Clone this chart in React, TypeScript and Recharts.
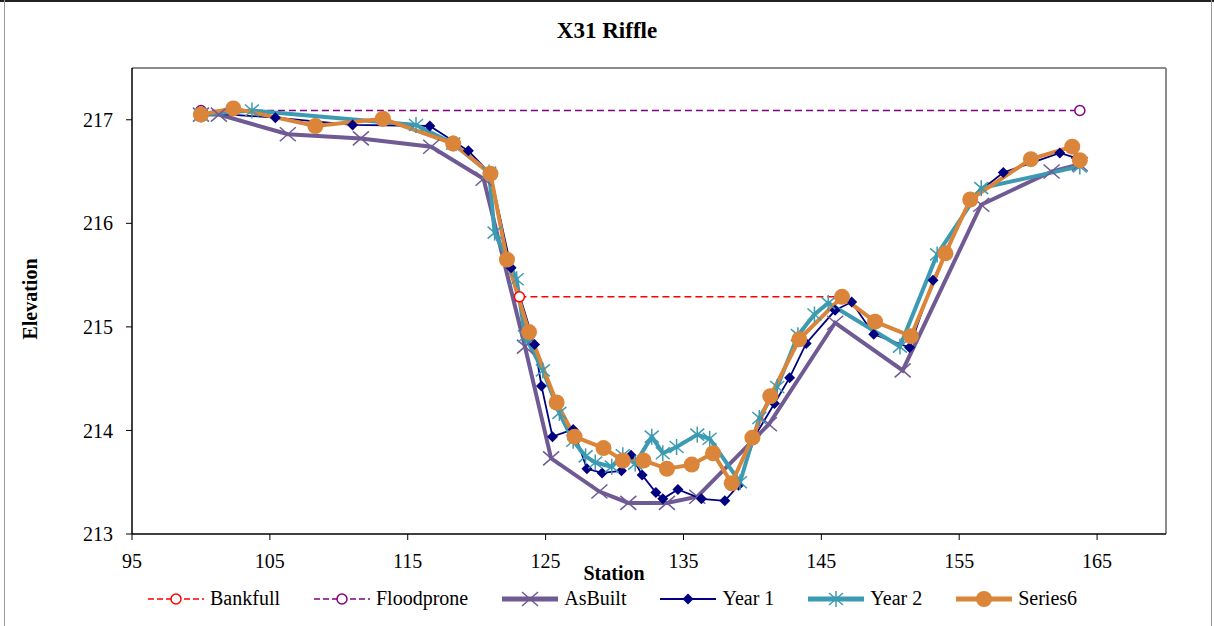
import React from 'react'
import { LineChart, Line, XAxis, YAxis, ReferenceLine } from 'recharts'

// station / elevation pairs
const bankfull = [
    { s: 123.1, e: 215.29 },
    { s: 146.4, e: 215.29 },
]

const floodprone = [
    { s: 100.0, e: 217.09 },
    { s: 163.75, e: 217.09 },
]

const asBuilt = [
    { s: 100.0, e: 217.05 }, { s: 101.3, e: 217.05 }, { s: 106.3, e: 216.86 }, { s: 111.6, e: 216.82 },
    { s: 116.7, e: 216.74 }, { s: 120.5, e: 216.43 }, { s: 123.5, e: 214.81 }, { s: 125.4, e: 213.73 },
    { s: 128.9, e: 213.41 }, { s: 131.0, e: 213.3 }, { s: 133.8, e: 213.3 }, { s: 136.0, e: 213.36 },
    { s: 141.2, e: 214.06 }, { s: 146.0, e: 215.04 }, { s: 150.9, e: 214.58 }, { s: 156.6, e: 216.18 },
    { s: 161.7, e: 216.5 }, { s: 163.75, e: 216.57 },
]

const year1 = [
    { s: 100.0, e: 217.07 }, { s: 105.4, e: 217.02 }, { s: 111.0, e: 216.95 }, { s: 116.6, e: 216.94 },
    { s: 119.4, e: 216.7 }, { s: 121.0, e: 216.48 }, { s: 122.5, e: 215.57 }, { s: 124.2, e: 214.83 },
    { s: 124.7, e: 214.43 }, { s: 125.5, e: 213.94 }, { s: 127.0, e: 214.01 }, { s: 128.0, e: 213.63 },
    { s: 129.1, e: 213.59 }, { s: 130.5, e: 213.61 }, { s: 131.2, e: 213.76 }, { s: 132.0, e: 213.57 },
    { s: 133.0, e: 213.4 }, { s: 133.5, e: 213.34 }, { s: 134.6, e: 213.43 }, { s: 136.3, e: 213.34 },
    { s: 138.0, e: 213.32 }, { s: 139.0, e: 213.47 }, { s: 140.2, e: 213.95 }, { s: 141.6, e: 214.26 },
    { s: 142.7, e: 214.51 }, { s: 143.9, e: 214.84 }, { s: 146.0, e: 215.16 }, { s: 147.2, e: 215.24 },
    { s: 148.8, e: 214.93 }, { s: 151.4, e: 214.8 }, { s: 153.1, e: 215.45 }, { s: 155.9, e: 216.25 },
    { s: 158.2, e: 216.49 }, { s: 162.3, e: 216.68 }, { s: 163.5, e: 216.63 },
]

const year2 = [
    { s: 100.0, e: 217.05 }, { s: 103.7, e: 217.09 }, { s: 115.6, e: 216.95 }, { s: 118.3, e: 216.77 },
    { s: 120.9, e: 216.49 }, { s: 121.3, e: 215.91 }, { s: 122.9, e: 215.46 }, { s: 123.5, e: 214.91 },
    { s: 124.8, e: 214.58 }, { s: 126.0, e: 214.17 }, { s: 127.0, e: 213.9 }, { s: 127.9, e: 213.75 },
    { s: 128.6, e: 213.69 }, { s: 129.8, e: 213.65 }, { s: 130.6, e: 213.76 }, { s: 131.5, e: 213.68 },
    { s: 132.7, e: 213.94 }, { s: 133.5, e: 213.78 }, { s: 134.5, e: 213.84 }, { s: 136.0, e: 213.96 },
    { s: 136.9, e: 213.92 }, { s: 139.1, e: 213.5 }, { s: 140.5, e: 214.12 }, { s: 141.8, e: 214.42 },
    { s: 143.3, e: 214.92 }, { s: 144.5, e: 215.12 }, { s: 145.5, e: 215.23 }, { s: 150.7, e: 214.81 },
    { s: 153.4, e: 215.7 }, { s: 156.6, e: 216.34 }, { s: 163.75, e: 216.55 },
]

const series6 = [
    { s: 100.0, e: 217.05 }, { s: 102.35, e: 217.11 }, { s: 108.3, e: 216.94 }, { s: 113.2, e: 217.01 },
    { s: 118.3, e: 216.77 }, { s: 121.0, e: 216.48 }, { s: 122.2, e: 215.65 }, { s: 123.8, e: 214.95 },
    { s: 125.8, e: 214.27 }, { s: 127.1, e: 213.94 }, { s: 129.2, e: 213.83 }, { s: 130.6, e: 213.71 },
    { s: 132.1, e: 213.71 }, { s: 133.8, e: 213.63 }, { s: 135.6, e: 213.67 }, { s: 137.15, e: 213.78 },
    { s: 138.5, e: 213.49 }, { s: 140.0, e: 213.93 }, { s: 141.3, e: 214.33 }, { s: 143.4, e: 214.88 },
    { s: 146.5, e: 215.29 }, { s: 148.9, e: 215.05 }, { s: 151.5, e: 214.91 }, { s: 154.0, e: 215.71 },
    { s: 155.8, e: 216.23 }, { s: 160.2, e: 216.62 }, { s: 163.2, e: 216.74 }, { s: 163.75, e: 216.61 },
]

const xTicks = [95, 105, 115, 125, 135, 145, 155, 165]
const yTicks = [213, 214, 215, 216, 217]

const FONT = '"Liberation Serif", "Times New Roman", serif'

const RED = '#ff0000'
const PURPLE = '#800080'
const ASBUILT = '#6f5a94'
const NAVY = '#000080'
const TEAL = '#3c9bb2'
const ORANGE = '#da8539'

type Mark = 'open' | 'x' | 'diamond' | 'star' | 'dot'

function Marker({ kind, color, cx, cy }: { kind: Mark; color: string; cx: number; cy: number }) {
    if (cx == null || cy == null) return null
    switch (kind) {
        case 'open':
            return <circle cx={cx} cy={cy} r={5} fill="#fff" stroke={color} strokeWidth={1.5} />
        case 'x':
            return (
                <g stroke={color} strokeWidth={1.5}>
                    <line x1={cx - 8} y1={cy - 7} x2={cx + 8} y2={cy + 7} />
                    <line x1={cx - 8} y1={cy + 7} x2={cx + 8} y2={cy - 7} />
                </g>
            )
        case 'diamond':
            return <polygon points={`${cx},${cy - 5.5} ${cx + 5.5},${cy} ${cx},${cy + 5.5} ${cx - 5.5},${cy}`} fill={color} />
        case 'star':
            return (
                <g stroke={color} strokeWidth={1.5}>
                    <line x1={cx} y1={cy - 8} x2={cx} y2={cy + 8} />
                    <line x1={cx - 7} y1={cy - 6} x2={cx + 7} y2={cy + 6} />
                    <line x1={cx - 7} y1={cy + 6} x2={cx + 7} y2={cy - 6} />
                </g>
            )
        default:
            return <circle cx={cx} cy={cy} r={8} fill={color} />
    }
}

const dotOf = (kind: Mark, color: string) => (p: any) => (
    <Marker key={`${kind}-${p.index}`} kind={kind} color={color} cx={p.cx} cy={p.cy} />
)

const legendItems: { name: string; color: string; width: number; dash?: string; kind: Mark }[] = [
    { name: 'Bankfull', color: RED, width: 1.5, dash: '6 3', kind: 'open' },
    { name: 'Floodprone', color: PURPLE, width: 1.5, dash: '6 3', kind: 'open' },
    { name: 'AsBuilt', color: ASBUILT, width: 5, kind: 'x' },
    { name: 'Year 1', color: NAVY, width: 1.8, kind: 'diamond' },
    { name: 'Year 2', color: TEAL, width: 5, kind: 'star' },
    { name: 'Series6', color: ORANGE, width: 5, kind: 'dot' },
]

export default function App() {
    return (
        <div style={{ position: 'absolute', left: 0, top: 0, width: 1214, height: 626, background: '#fff', fontFamily: FONT }}>
            <div style={{ position: 'absolute', left: 0, top: 0, width: 1214, height: 2, background: '#222' }} />
            <div style={{ position: 'absolute', left: 4, top: 0, width: 1, height: 626, background: '#999' }} />
            <div style={{ position: 'absolute', left: 1211, top: 0, width: 1, height: 626, background: '#999' }} />

            <div style={{ position: 'absolute', left: 0, top: 18, width: 1214, textAlign: 'center', fontSize: 23, fontWeight: 'bold' }}>
                X31 Riffle
            </div>

            <LineChart width={1214} height={626} margin={{ top: 68, right: 48, bottom: 52, left: 72 }}>
                <XAxis
                    type="number"
                    dataKey="s"
                    domain={[95, 170]}
                    ticks={xTicks}
                    allowDataOverflow
                    height={40}
                    axisLine={{ stroke: '#000', strokeWidth: 1.5 }}
                    tickLine={{ stroke: '#000' }}
                    tickSize={6}
                    tickMargin={14}
                    tick={{ fill: '#000', fontSize: 20, fontFamily: FONT }}
                />
                <YAxis
                    type="number"
                    dataKey="e"
                    domain={[213, 217.5]}
                    ticks={yTicks}
                    allowDataOverflow
                    width={60}
                    axisLine={{ stroke: '#000', strokeWidth: 1.5 }}
                    tickLine={{ stroke: '#000' }}
                    tickSize={6}
                    tickMargin={13}
                    tick={{ fill: '#000', fontSize: 20, fontFamily: FONT }}
                />
                <ReferenceLine y={217.5} stroke="#8c8c8c" strokeWidth={2} />
                <ReferenceLine x={170} stroke="#8c8c8c" strokeWidth={2} />

                <Line data={bankfull} dataKey="e" name="Bankfull" stroke={RED} strokeWidth={1.5} strokeDasharray="7 4"
                    dot={dotOf('open', RED)} isAnimationActive={false} />
                <Line data={floodprone} dataKey="e" name="Floodprone" stroke={PURPLE} strokeWidth={1.5} strokeDasharray="7 4"
                    dot={dotOf('open', PURPLE)} isAnimationActive={false} />
                <Line data={asBuilt} dataKey="e" name="AsBuilt" stroke={ASBUILT} strokeWidth={4}
                    dot={dotOf('x', ASBUILT)} isAnimationActive={false} />
                <Line data={year1} dataKey="e" name="Year 1" stroke={NAVY} strokeWidth={1.8}
                    dot={dotOf('diamond', NAVY)} isAnimationActive={false} />
                <Line data={year2} dataKey="e" name="Year 2" stroke={TEAL} strokeWidth={4}
                    dot={dotOf('star', TEAL)} isAnimationActive={false} />
                <Line data={series6} dataKey="e" name="Series6" stroke={ORANGE} strokeWidth={4}
                    dot={dotOf('dot', ORANGE)} isAnimationActive={false} />
            </LineChart>

            <div style={{ position: 'absolute', left: 0, top: 285, width: 60, height: 28, display: 'flex', justifyContent: 'center' }}>
                <div style={{ transform: 'rotate(-90deg)', fontSize: 20, fontWeight: 'bold', whiteSpace: 'nowrap', lineHeight: '28px' }}>
                    Elevation
                </div>
            </div>
            <div style={{ position: 'absolute', left: 564, top: 562, width: 100, textAlign: 'center', fontSize: 20, fontWeight: 'bold' }}>
                Station
            </div>

            <div style={{ position: 'absolute', left: 148, top: 587, display: 'flex', alignItems: 'center', fontSize: 20 }}>
                {legendItems.map((it, i) => (
                    <div key={it.name} style={{ display: 'flex', alignItems: 'center', marginRight: i < 5 ? 34 : 0 }}>
                        <svg width={56} height={22} style={{ marginRight: 6 }}>
                            <line x1={0} y1={11} x2={56} y2={11} stroke={it.color} strokeWidth={it.width} strokeDasharray={it.dash} />
                            <Marker kind={it.kind} color={it.color} cx={28} cy={11} />
                        </svg>
                        <span>{it.name}</span>
                    </div>
                ))}
            </div>
        </div>
    )
}
